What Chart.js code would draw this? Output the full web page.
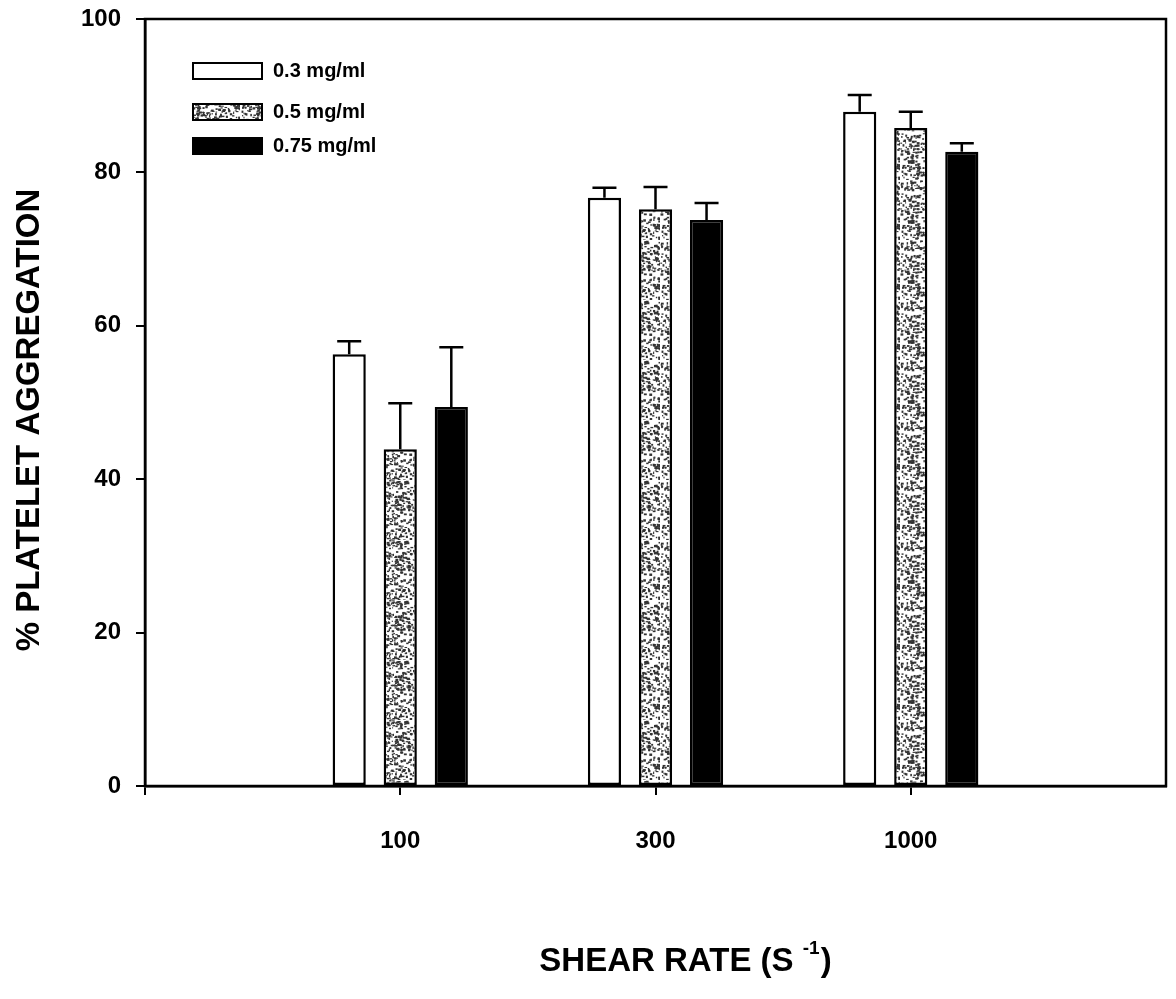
<!DOCTYPE html>
<html>
<head>
<meta charset="utf-8">
<script src="https://cdn.jsdelivr.net/npm/chart.js@4.4.0/dist/chart.umd.min.js"></script>
<style>
  body { margin: 0; background: #fff; }
  canvas { display: block; }
</style>
</head>
<body>
<canvas id="aggChart" width="1176" height="999"></canvas>
<script>
var shearRates = ["100", "300", "1000"];
var seriesNames = ["0.3 mg/ml", "0.5 mg/ml", "0.75 mg/ml"];
var mean03 = [56.3, 76.7, 87.9];
var mean05 = [43.9, 75.2, 85.8];
var mean075 = [49.4, 73.8, 82.7];
var sd03 = [1.7, 1.3, 2.2];
var sd05 = [6.0, 2.9, 2.1];
var sd075 = [7.8, 2.2, 1.1];
var yTicks = [0, 20, 40, 60, 80, 100];

var FONT = "'Liberation Sans', Arial, sans-serif";

// empty slots at both ends so the groups sit at 1/4, 2/4, 3/4 of the axis
var labels = [""].concat(shearRates, [""]);
function pad(arr) { return [null].concat(arr, [null]); }

// speckled fill for the middle series
function makeSpeckle() {
  var c = document.createElement("canvas");
  c.width = 60; c.height = 60;
  var g = c.getContext("2d");
  g.fillStyle = "#fff";
  g.fillRect(0, 0, 60, 60);
  var seed = 12345;
  function rnd() { seed = (seed * 1103515245 + 12345) % 2147483648; return seed / 2147483648; }
  g.fillStyle = "#333";
  for (var i = 0; i < 480; i++) {
    var x = rnd() * 60, y = rnd() * 60;
    g.fillRect(x, y, 1 + rnd() * 2, 1 + rnd() * 1.5);
  }
  return g.createPattern(c, "repeat");
}

var canvasElement = document.getElementById("aggChart");
var speckle = makeSpeckle();

var fills = ["#ffffff", speckle, "#000000"];
var means = [mean03, mean05, mean075];
var sds = [sd03, sd05, sd075];

var datasets = means.map(function (m, i) {
  return {
    label: seriesNames[i],
    data: pad(m),
    backgroundColor: fills[i],
    borderColor: "#000",
    borderWidth: 2.5,
    borderSkipped: false,
    categoryPercentage: 0.6,
    barPercentage: 0.65
  };
});

// drop the auto padding chart.js adds for tick labels
function noPad(s) {
  s.paddingTop = 0; s.paddingBottom = 0; s.paddingLeft = 0; s.paddingRight = 0;
}

var decor = {
  id: "decor",
  beforeDatasetsDraw: function (chart) {
    // error bars go behind the bars (only the upper half shows)
    var ctx = chart.ctx;
    var yScale = chart.scales.y;
    ctx.save();
    ctx.strokeStyle = "#000";
    ctx.lineWidth = 2.5;
    chart.data.datasets.forEach(function (ds, di) {
      var meta = chart.getDatasetMeta(di);
      meta.data.forEach(function (bar, j) {
        var v = ds.data[j];
        if (v === null) return;
        var top = yScale.getPixelForValue(v + sds[di][j - 1]);
        ctx.beginPath();
        ctx.moveTo(bar.x, bar.y);
        ctx.lineTo(bar.x, top);
        ctx.moveTo(bar.x - 12, top);
        ctx.lineTo(bar.x + 12, top);
        ctx.stroke();
      });
    });
    ctx.restore();
  },
  afterDraw: function (chart) {
    var ctx = chart.ctx;
    var a = chart.chartArea;
    ctx.save();
    // frame
    ctx.strokeStyle = "#000";
    ctx.lineWidth = 2.5;
    ctx.strokeRect(a.left, a.top, a.right - a.left, a.bottom - a.top);

    // legend
    var rows = [71, 112, 146];
    ctx.font = "bold 20px " + FONT;
    ctx.textBaseline = "middle";
    ctx.textAlign = "left";
    rows.forEach(function (yc, i) {
      ctx.fillStyle = fills[i];
      ctx.fillRect(193, yc - 8, 69, 16);
      ctx.lineWidth = 2;
      ctx.strokeStyle = "#000";
      ctx.strokeRect(193, yc - 8, 69, 16);
      ctx.fillStyle = "#000";
      ctx.fillText(seriesNames[i], 273, yc);
    });

    // axis titles
    ctx.fillStyle = "#000";
    ctx.font = "bold 33px " + FONT;
    ctx.save();
    ctx.translate(30, 420);
    ctx.rotate(-Math.PI / 2);
    ctx.textAlign = "center";
    ctx.fillText("% PLATELET AGGREGATION", 0, 0);
    ctx.restore();

    var main = "SHEAR RATE (S ";
    var sup = "-1";
    ctx.font = "bold 33px " + FONT;
    var w1 = ctx.measureText(main).width;
    var w3 = ctx.measureText(")").width;
    ctx.font = "bold 19px " + FONT;
    var w2 = ctx.measureText(sup).width;
    var x0 = 685 - (w1 + w2 + w3) / 2;
    var yb = 962;
    ctx.textAlign = "left";
    ctx.textBaseline = "middle";
    ctx.font = "bold 33px " + FONT;
    ctx.fillText(main, x0, yb);
    ctx.font = "bold 19px " + FONT;
    ctx.fillText(sup, x0 + w1, yb - 13);
    ctx.font = "bold 33px " + FONT;
    ctx.fillText(")", x0 + w1 + w2 + 1, yb);
    ctx.restore();
  }
};

var config = {
  type: "bar",
  data: { labels: labels, datasets: datasets },
  options: {
    responsive: false,
    animation: false,
    layout: { padding: { left: 0, right: 10, top: 19, bottom: 0 } },
    plugins: { legend: { display: false }, tooltip: { enabled: false } },
    scales: {
      x: {
        offset: false,
        afterFit: function (s) { s.height = 213; noPad(s); },
        border: { display: true, color: "#000", width: 2.5 },
        grid: {
          offset: false,
          drawOnChartArea: false,
          tickLength: 9,
          lineWidth: 2,
          color: function (c) { return c.index === 4 ? "rgba(0,0,0,0)" : "#000"; }
        },
        ticks: { color: "#000", font: { family: FONT, size: 24, weight: "bold" }, padding: 32, maxRotation: 0, autoSkip: false }
      },
      y: {
        min: 0,
        max: 100,
        afterFit: function (s) { s.width = 145; noPad(s); },
        afterBuildTicks: function (s) { s.ticks = yTicks.map(function (v) { return { value: v }; }); },
        border: { display: true, color: "#000", width: 2.5 },
        grid: { drawOnChartArea: false, tickLength: 9, lineWidth: 2, color: "#000" },
        ticks: { color: "#000", font: { family: FONT, size: 24, weight: "bold" }, padding: 15 }
      }
    }
  },
  plugins: [decor]
};

var aggChart = new Chart(canvasElement, config);
</script>
</body>
</html>
